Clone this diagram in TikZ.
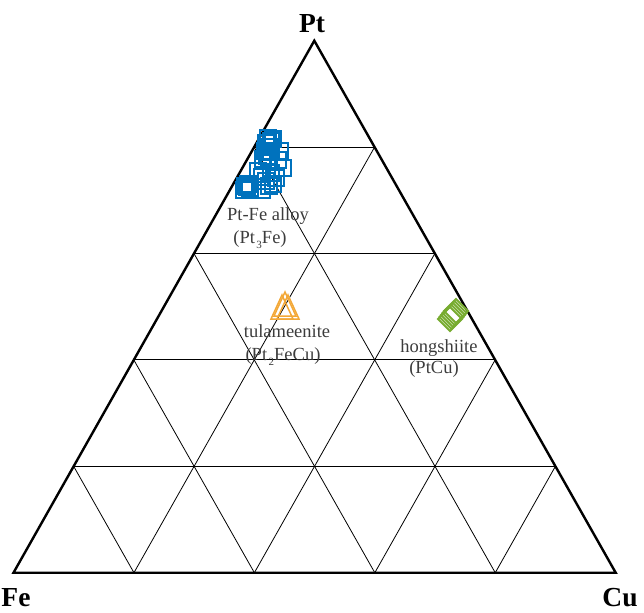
\documentclass[tikz,border=0pt]{standalone}
\usepackage{fontspec}
\setmainfont{Liberation Serif}
\usetikzlibrary{calc}
\definecolor{alloyblue}{RGB}{0,114,189}
\definecolor{tulaorange}{RGB}{243,168,55}
\definecolor{honggreen}{RGB}{119,172,48}
\definecolor{labelgray}{RGB}{60,60,60}
\newcommand{\chemsub}[1]{\hspace{1.5pt}\raisebox{-.6ex}{\fontsize{11}{11}\selectfont#1}}
\begin{document}
\begin{tikzpicture}[x=1pt,y=-1pt,
  every node/.style={font=\fontsize{18.5}{20}\selectfont, text=labelgray, inner sep=0pt, anchor=base},
  corner/.style={font=\fontsize{27.5}{28}\selectfont\bfseries, text=black},
  gridline/.style={black, line width=.8pt},
  alloy/.style={alloyblue, line width=2.2pt},
  tula/.style={tulaorange, line width=1.5pt},
  hong/.style={honggreen, line width=2pt}]
  \useasboundingbox (0,0) rectangle (644,612);
  \coordinate (Pt) at (314.3,40.7);
  \coordinate (Fe) at (13.5,572.7);
  \coordinate (Cu) at (615.7,572.7);
  % grid
  \foreach \k in {1,...,4} {
    \draw[gridline] ($(Pt)!\k/5!(Fe)$) -- ($(Pt)!\k/5!(Cu)$);
    \draw[gridline] ($(Cu)!\k/5!(Pt)$) -- ($(Cu)!\k/5!(Fe)$);
    \draw[gridline] ($(Fe)!\k/5!(Pt)$) -- ($(Fe)!\k/5!(Cu)$);
  }
  \draw[line width=2.4pt, line join=miter] (Pt) -- (Fe) -- (Cu) -- cycle;
  \node[corner] (ptlbl) at (312,33) {Pt};
  \node[corner] (felbl) at (16,606) {Fe};
  \node[corner] (culbl) at (620,606) {Cu};
  % Pt-Fe alloy
  \foreach \x/\y in {268/138,271/141,266/143,273/139,269/147,265/151,271/152,267/156,263/159,269/161,
                     245/186,248/184,250/188,244/190,247/187}
    \draw[alloy] (\x-8,\y-8) rectangle (\x+8,\y+8);
  \foreach \x/\y in {280/151,283/168,278/160,258/171,262/177,271/173,266/181,276/178,269/186,273/184,262/190}
    \draw[alloy, line width=1.1pt] (\x-8,\y-8) rectangle (\x+8,\y+8);
  % tulameenite
  \foreach \x/\y in {285/305,282/308,288/308}
    \draw[tula] (\x,\y-13) -- (\x-11,\y+11) -- (\x+11,\y+11) -- cycle;
  % hongshiite
  \foreach \x/\y in {456/311,454.5/313,453/315,451.5/317,450/319}
    \draw[hong] (\x,\y-12) -- (\x+12,\y) -- (\x,\y+12) -- (\x-12,\y) -- cycle;
  \node (alloyname) at (268,220) {Pt-Fe alloy};
  \node (alloyform) at (260,243) {(Pt\chemsub{3}Fe)};
  \node (tulaname) at (287,337) {tulameenite};
  \node (tulaform) at (283,360) {(Pt\chemsub{2}FeCu)};
  \node (hongname) at (439,352) {hongshiite};
  \node (hongform) at (434,373) {(PtCu)};
\end{tikzpicture}
\end{document}
